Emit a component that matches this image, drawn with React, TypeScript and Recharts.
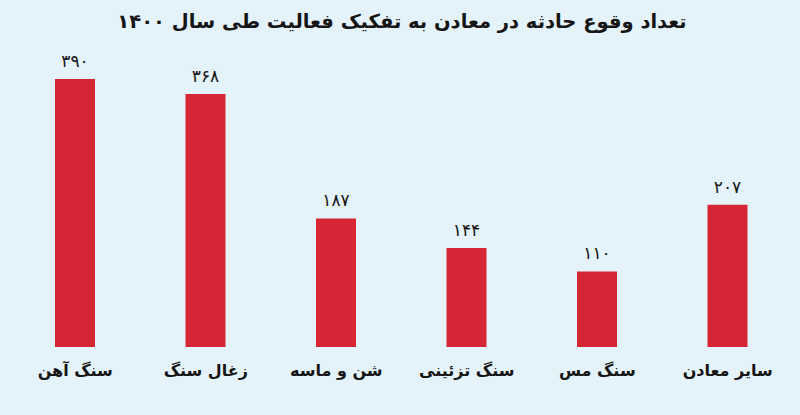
import { BarChart, Bar, XAxis, YAxis, LabelList } from 'recharts'

const categories = ['سنگ آهن', 'زغال سنگ', 'شن و ماسه', 'سنگ تزئینی', 'سنگ مس', 'سایر معادن']
const accidents = [390, 368, 187, 144, 110, 207]

const data = categories.map((name, i) => ({ name, value: accidents[i] }))

const BG = '#e4f2f9'
const RED = '#d62535'
const FONT = '"DejaVu Sans", sans-serif'

// persian digits for the value labels
const toFa = (v: number | string) => String(v).replace(/\d/g, d => '۰۱۲۳۴۵۶۷۸۹'[+d])

export default function App() {
  return (
    <div style={{ position: 'absolute', left: 0, top: 0, width: 800, height: 415, background: BG, overflow: 'hidden', fontFamily: FONT }}>
      <div style={{ position: 'absolute', left: 0, top: 10, width: 804, textAlign: 'center', direction: 'rtl', fontSize: 19.5, fontWeight: 'bold', color: '#151515' }}>
        تعداد وقوع حادثه در معادن به تفکیک فعالیت طی سال ۱۴۰۰
      </div>
      <div style={{ position: 'absolute', left: 0, top: 0 }}>
        <BarChart width={800} height={415} data={data} margin={{ top: 72, right: 7, bottom: 0, left: 10 }}>
          <YAxis hide domain={[0, 400]} />
          <XAxis
            dataKey="name"
            axisLine={false}
            tickLine={false}
            tickSize={0}
            tickMargin={18}
            height={68}
            interval={0}
            tick={{ fill: '#151515', fontSize: 16, fontWeight: 'bold', fontFamily: FONT }}
          />
          <Bar dataKey="value" fill={RED} barSize={40} isAnimationActive={false}>
            <LabelList
              dataKey="value"
              position="top"
              offset={12}
              formatter={(v: number) => toFa(v)}
              style={{ fill: '#151515', fontSize: 17, fontFamily: FONT, letterSpacing: 2 }}
            />
          </Bar>
        </BarChart>
      </div>
    </div>
  )
}
